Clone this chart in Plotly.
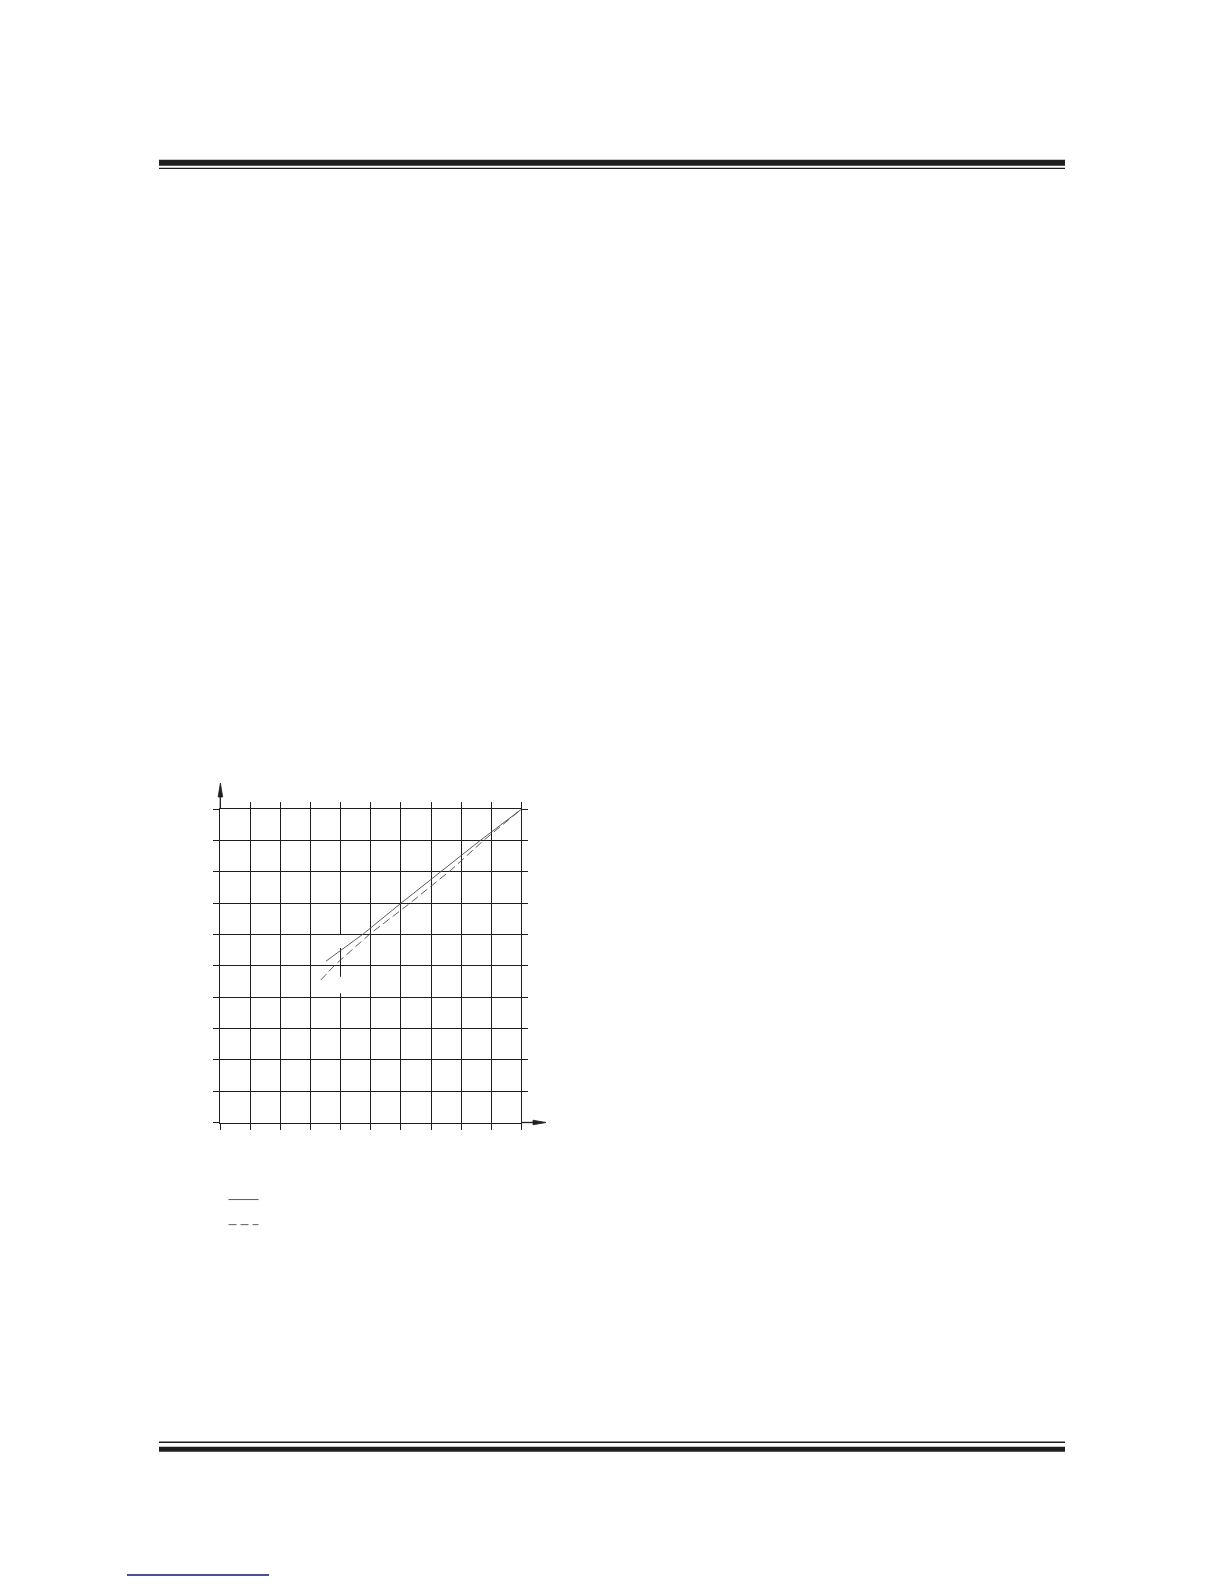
import plotly.graph_objects as go

# page size in px
W, H = 1224, 1584

# curve readings (grid units, 10 divisions on each axis)
solid_x = [3.51, 4.75, 6.0, 8.63, 10.0]
solid_y = [5.15, 6.02, 7.0, 9.0, 10.0]

dashed_x = [3.34, 3.81, 4.97, 6.30, 7.69, 8.74, 10.0]
dashed_y = [4.55, 5.03, 6.02, 7.0, 8.08, 9.0, 10.0]

grid_ticks = list(range(0, 11))


def px(x):
    return x / W


def py(y):
    return 1 - y / H


def hline(x0, x1, y, width, color="#1e1e1e"):
    return dict(type="line", xref="paper", yref="paper", x0=px(x0), x1=px(x1), y0=py(y), y1=py(y),
                line=dict(color=color, width=width))


def bar(x0, x1, y0, y1, color="#1e1e1e"):
    return dict(type="rect", xref="paper", yref="paper", x0=px(x0), x1=px(x1), y0=py(y0), y1=py(y1),
                fillcolor=color, line=dict(width=0))


fig = go.Figure()

fig.add_trace(go.Scatter(x=solid_x, y=solid_y, mode='lines', name=' ',
                         line=dict(color='#4a4a4a', width=0.9)))
fig.add_trace(go.Scatter(x=dashed_x, y=dashed_y, mode='lines', name='  ',
                         line=dict(color='#4a4a4a', width=0.9, dash='8px,4px')))

# grid + box, with short overhangs (mirrored ticks) past the frame
axis_style = dict(range=[0, 10], tickvals=grid_ticks, showticklabels=False, showgrid=True,
                  gridcolor='#1e1e1e', gridwidth=1.3, zeroline=False,
                  showline=True, linecolor='#1e1e1e', linewidth=1.3,
                  ticks='outside', ticklen=6, tickwidth=1.3, tickcolor='#1e1e1e', mirror='ticks')

shapes = [
    # page header / footer rules
    bar(159, 1065, 159.7, 165.7),
    hline(159, 1065, 168.4, 1.3),
    hline(159, 1065, 1442.3, 1.4),
    bar(159, 1065, 1446.7, 1451.7),
    hline(127, 269, 1575, 1.6, color='#12127e'),
    # axis arrows
    dict(type="line", xref="paper", yref="paper", x0=px(220.3), x1=px(220.3), y0=py(809), y1=py(795),
         line=dict(color='#1e1e1e', width=1.3)),
    dict(type="path", xref="paper", yref="paper",
         path=f"M {px(220.4)},{py(783)} L {px(218.1)},{py(797)} L {px(222.7)},{py(797)} Z",
         fillcolor='#1e1e1e', line=dict(color='#1e1e1e', width=0.8)),
    dict(type="line", xref="paper", yref="paper", x0=px(521), x1=px(535), y0=py(1122.5), y1=py(1122.5),
         line=dict(color='#1e1e1e', width=1.3)),
    dict(type="path", xref="paper", yref="paper",
         path=f"M {px(546)},{py(1122.5)} L {px(533)},{py(1120.2)} L {px(533)},{py(1124.8)} Z",
         fillcolor='#1e1e1e', line=dict(color='#1e1e1e', width=0.8)),
    # breaks in the x=4 grid line where labels sat
    dict(type="rect", xref="x", yref="y", x0=3.9, x1=4.1, y0=5.57, y1=5.985,
         fillcolor='white', line=dict(width=0), layer='above'),
    dict(type="rect", xref="x", yref="y", x0=3.9, x1=4.1, y0=4.13, y1=4.65,
         fillcolor='white', line=dict(width=0), layer='above'),
]

fig.update_layout(
    width=W, height=H, margin=dict(l=0, r=0, t=0, b=0),
    paper_bgcolor='white', plot_bgcolor='white',
    xaxis=dict(domain=[220.3 / W, 521.3 / W], **axis_style),
    yaxis=dict(domain=[1 - 1122.5 / H, 1 - 809.3 / H], **axis_style),
    showlegend=True,
    legend=dict(x=px(223.5), y=py(1182), xanchor='left', yanchor='top', bgcolor='rgba(0,0,0,0)',
                borderwidth=0, font=dict(size=17, family='Liberation Sans')),
    shapes=shapes,
)

fig.write_html("out.html", config={'displayModeBar': False},
               post_script="document.body.style.margin='0';")
